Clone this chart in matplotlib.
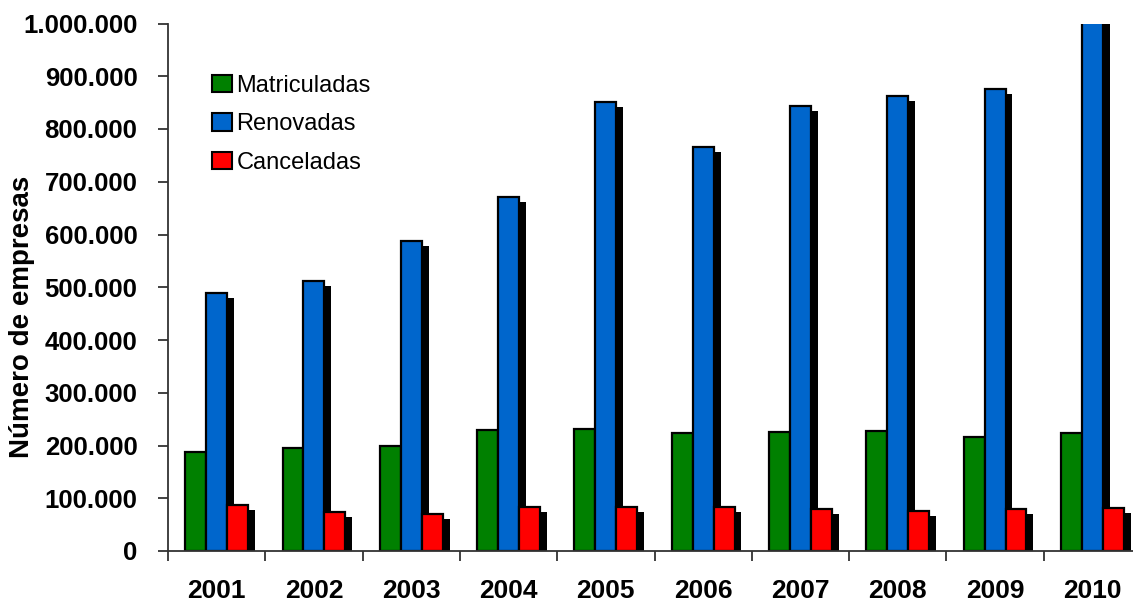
import matplotlib
matplotlib.use("Agg")
import matplotlib.pyplot as plt
import matplotlib.patheffects as pe
from matplotlib.patches import Patch
from matplotlib.ticker import FuncFormatter, FixedLocator
from matplotlib import font_manager
import numpy as np

years = ["2001", "2002", "2003", "2004", "2005", "2006", "2007", "2008", "2009", "2010"]
matriculadas = [188000, 195000, 199000, 230000, 231000, 223000, 226000, 228000, 216000, 223000]
renovadas = [489000, 511000, 588000, 672000, 851000, 766000, 844000, 862000, 876000, 1040000]
canceladas = [87000, 73000, 71000, 84000, 84000, 84000, 80000, 75000, 79000, 81000]
series_names = ["Matriculadas", "Renovadas", "Canceladas"]
colors = ["#008000", "#0066CC", "#FF0000"]

plt.rcParams['font.family'] = ['Liberation Sans', 'DejaVu Sans']

# condensed bold for tick labels if available
try:
    font_manager.findfont(font_manager.FontProperties(family='Liberation Sans Narrow', weight='bold'),
                          fallback_to_default=False)
    tick_family = ['Liberation Sans Narrow', 'Liberation Sans', 'DejaVu Sans']
    ysize, xsize = 22, 21.3
except Exception:
    tick_family = ['Liberation Sans', 'DejaVu Sans']
    ysize, xsize = 18.5, 19

fig = plt.figure(figsize=(11.33, 6.05), dpi=100)
ax = fig.add_axes([168/1133, 54/605, 973/1133, 527.5/605])

x = np.arange(len(years)) + 0.5
w = 0.215
shadow = [pe.SimplePatchShadow(offset=(5.0, -3.6), shadow_rgbFace='black', alpha=1.0), pe.Normal()]
for k, (vals, c) in enumerate(zip([matriculadas, renovadas, canceladas], colors)):
    ax.bar(x + (k - 1) * w, vals, width=w, color=c, edgecolor='black', linewidth=1.6,
           path_effects=shadow, zorder=2 + k)

ax.set_xlim(0, len(years))
ax.set_ylim(0, 1000000)
ax.yaxis.set_major_locator(FixedLocator(np.arange(0, 1000001, 100000)))
ax.yaxis.set_major_formatter(FuncFormatter(lambda v, p: f"{int(v):,}".replace(",", ".")))
ax.xaxis.set_major_locator(FixedLocator(np.arange(0, len(years) + 1)))
ax.xaxis.set_major_formatter(FuncFormatter(lambda v, p: ""))
ax.set_xticks(x, years, minor=True)
ax.tick_params(axis='x', which='major', length=7, width=1.3, direction='out', color='#333333')
ax.tick_params(axis='x', which='minor', length=0, pad=20)
ax.tick_params(axis='y', which='major', length=7, width=1.3, direction='out', pad=15, color='#333333')
for lab in ax.get_xticklabels(minor=True):
    lab.set_fontweight('bold')
    lab.set_family(tick_family)
    lab.set_fontsize(xsize)
for lab in ax.get_yticklabels():
    lab.set_fontweight('bold')
    lab.set_family(tick_family)
    lab.set_fontsize(ysize)

for s in ['top', 'right']:
    ax.spines[s].set_visible(False)
for s in ['left', 'bottom']:
    ax.spines[s].set_linewidth(1.3)
    ax.spines[s].set_color('#333333')
    ax.spines[s].set_zorder(10)

fig.text(22/1133, 1 - 316.5/605, "Número de empresas", rotation=90, ha='center', va='center',
         fontsize=20, fontweight='bold')

handles = [Patch(facecolor=c, edgecolor='black', linewidth=1.5) for c in colors]
fig.legend(handles, series_names, loc='upper left', bbox_to_anchor=(200/1133, 1 - 63/605),
           frameon=False, fontsize=17, handlelength=0.85, handleheight=0.76,
           handletextpad=0.2, labelspacing=0.7, borderpad=0)

fig.savefig("out.png", dpi=100)
